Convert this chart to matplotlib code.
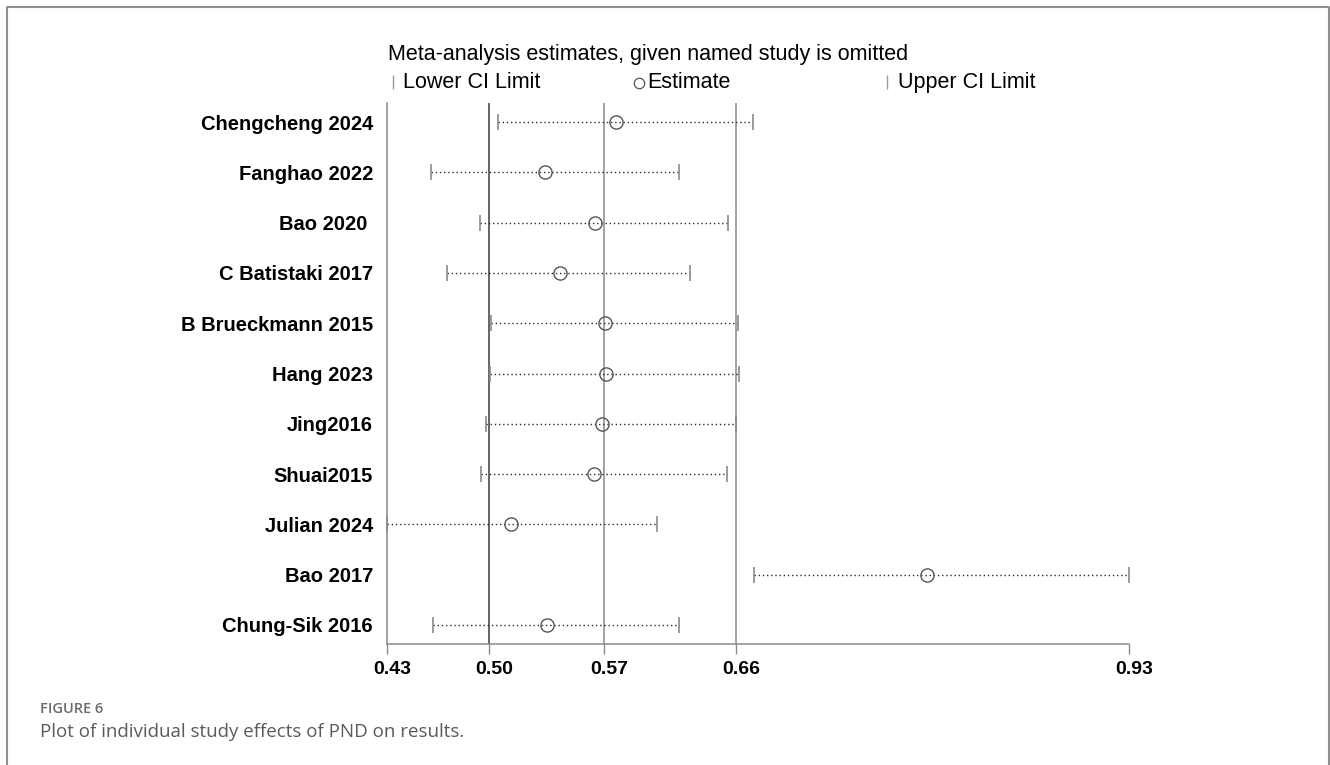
import numpy as np
import matplotlib.pyplot as plt
from matplotlib.lines import Line2D
from matplotlib.transforms import ScaledTranslation

plt.rcParams['font.family'] = ['Liberation Sans', 'DejaVu Sans']

# leave-one-out estimates (study omitted)
studies = ['Chengcheng 2024', 'Fanghao 2022', 'Bao 2020 ', 'C Batistaki 2017',
           'B Brueckmann 2015', 'Hang 2023', 'Jing2016', 'Shuai2015',
           'Julian 2024', 'Bao 2017', 'Chung-Sik 2016']
lower = [0.5018, 0.4567, 0.4896, 0.4677, 0.4971, 0.4966, 0.4939, 0.4903,
         0.4270, 0.6750, 0.4581]
estimate = [0.5817, 0.5340, 0.5675, 0.5437, 0.5745, 0.5748, 0.5725, 0.5671,
            0.5106, 0.7919, 0.5349]
upper = [0.6741, 0.6241, 0.6576, 0.6317, 0.6640, 0.6646, 0.6630, 0.6565,
         0.6092, 0.9284, 0.6243]
# pooled estimate with all studies: lower CI, estimate, upper CI
overall = [0.4959, 0.5736, 0.6628]

W, H = 1330, 765
fig = plt.figure(figsize=(W / 100, H / 100), dpi=100)

def fx(x):
    return x / W

def fy(y):
    return 1 - y / H

ax = fig.add_axes([fx(387), fy(644), (1129 - 387) / W, (644 - 103) / H])
rows = np.arange(1, len(studies) + 1)

grey = '#8a8a8a'

# reference lines for the pooled result
ax.axvline(overall[0], color='#3c3c3c', lw=1.1, zorder=0)
ax.axvline(overall[1], color=grey, lw=1.1, zorder=0)
ax.axvline(overall[2], color=grey, lw=1.1, zorder=0)

for r, lo, hi in zip(rows, lower, upper):
    ax.plot([lo, hi], [r, r], ls=(0, (1, 2)), lw=1.0, color='#2a2a2a', zorder=2)
ax.plot(lower, rows, ls='none', marker='|', ms=11, mew=1.2, color=grey, clip_on=False, zorder=3)
ax.plot(upper, rows, ls='none', marker='|', ms=11, mew=1.2, color=grey, clip_on=False, zorder=3)
ax.plot(estimate, rows, ls='none', marker='o', ms=9.5, mfc='none', mec='#555555', mew=1, zorder=4)

xmin, xmax = min(lower), max(upper)
ticks = [xmin] + overall + [xmax]
ax.set_xlim(xmin, xmax)
ax.set_ylim(len(studies) + 0.38, 0.62)
ax.set_xticks(ticks)
ax.set_xticklabels([f'{v:.2f}' for v in ticks], fontweight='bold')
ax.set_yticks(rows)
ax.set_yticklabels(studies, fontweight='bold')

for s in ['top', 'right']:
    ax.spines[s].set_visible(False)
for s in ['left', 'bottom']:
    ax.spines[s].set_color(grey)
    ax.spines[s].set_linewidth(1.1)

ax.tick_params(axis='x', length=7, width=1, color=grey, pad=5.5, labelsize=14)
ax.tick_params(axis='y', length=0, pad=10, labelsize=14.5)
for lab in ax.get_xticklabels():
    lab.set_transform(lab.get_transform() + ScaledTranslation(0.05, 0, fig.dpi_scale_trans))

# title and legend
fig.text(fx(388), fy(60), 'Meta-analysis estimates, given named study is omitted',
         fontsize=15.5, va='baseline', ha='left')
fig.add_artist(Line2D([fx(393)], [fy(82)], marker='|', ms=10, mew=1, color='#999999',
                      transform=fig.transFigure))
fig.text(fx(403), fy(88), 'Lower CI Limit', fontsize=15.5, va='baseline')
fig.add_artist(Line2D([fx(639)], [fy(83)], marker='o', ms=7.5, mfc='none', mec='#555555',
                      mew=0.9, transform=fig.transFigure))
fig.text(fx(647), fy(88), 'Estimate', fontsize=15.5, va='baseline')
fig.add_artist(Line2D([fx(887)], [fy(82)], marker='|', ms=10, mew=1, color='#999999',
                      transform=fig.transFigure))
fig.text(fx(898), fy(88), 'Upper CI Limit', fontsize=15.5, va='baseline')

# page frame
fig.add_artist(Line2D([fx(7), fx(7), fx(1329), fx(1329)], [0, fy(7), fy(7), 0],
                      transform=fig.transFigure, color='#8f8f8f', lw=1.5))

# caption
fig.text(fx(40), fy(713), 'FIGURE 6', fontsize=10.5, family=['Open Sans', 'DejaVu Sans'],
         weight='semibold', color='#6b6b6b', va='baseline')
fig.text(fx(40), fy(737), 'Plot of individual study effects of PND on results.', fontsize=13.5,
         family=['Open Sans', 'DejaVu Sans'], color='#5a5a5a', va='baseline')

fig.savefig('out.png', dpi=100)
